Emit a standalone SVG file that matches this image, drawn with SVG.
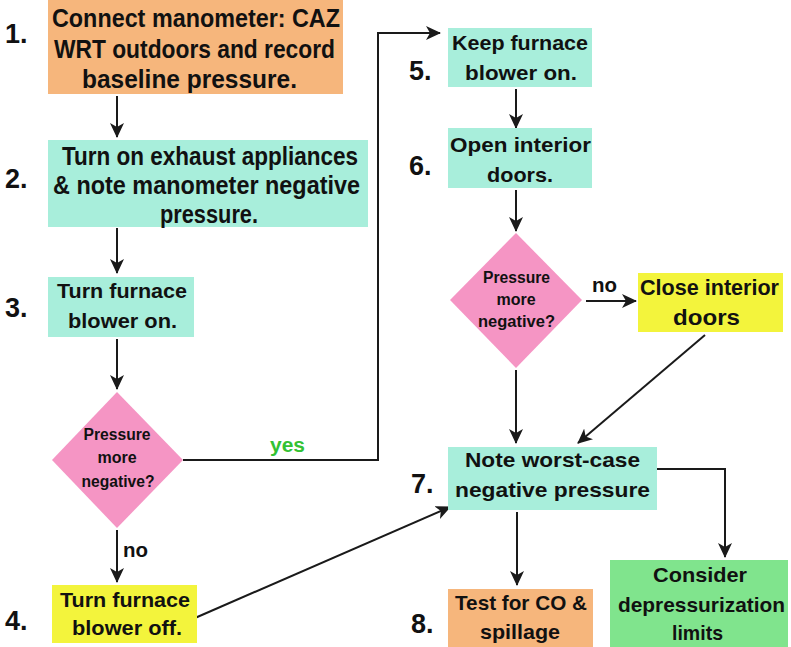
<svg xmlns="http://www.w3.org/2000/svg" width="791" height="647" viewBox="0 0 791 647">
<defs>
<marker id="ah" markerUnits="userSpaceOnUse" markerWidth="15" markerHeight="14" refX="14" refY="7" orient="auto">
<path d="M0,0 L15,7 L0,14 L4,7 Z" fill="#1a1a1a"/>
</marker>
<style>
text{font-family:"Liberation Sans",Arial,sans-serif;font-weight:bold;fill:#111;}
.t{text-anchor:middle;}
.big{font-size:25px;}
.mid{font-size:21px;}
.dia{font-size:16px;}
.num{font-size:27px;}
.lbl{font-size:20px;}
.yes{fill:#33c233;}
.c{fill:none;stroke:#1a1a1a;stroke-width:2;}
.orange{fill:#f6b67c;}
.teal{fill:#a8eedb;}
.pink{fill:#f595c4;}
.yellow{fill:#f3f43c;}
.green{fill:#80e48d;}
</style>
</defs>
<rect width="791" height="647" fill="#ffffff"/>

<g id="connectors">
<line class="c" x1="117" y1="96" x2="117" y2="137" marker-end="url(#ah)"/>
<line class="c" x1="117" y1="228" x2="117" y2="273" marker-end="url(#ah)"/>
<line class="c" x1="117" y1="339" x2="117" y2="389" marker-end="url(#ah)"/>
<line class="c" x1="117" y1="530" x2="117" y2="582" marker-end="url(#ah)"/>
<polyline class="c" points="183,460 378,460 378,33 440,33" marker-end="url(#ah)"/>
<line class="c" x1="516" y1="89" x2="516" y2="128" marker-end="url(#ah)"/>
<line class="c" x1="516" y1="190" x2="516" y2="231" marker-end="url(#ah)"/>
<line class="c" x1="586" y1="301" x2="636" y2="301" marker-end="url(#ah)"/>
<line class="c" x1="516" y1="370" x2="516" y2="443" marker-end="url(#ah)"/>
<line class="c" x1="705" y1="335" x2="578" y2="443" marker-end="url(#ah)"/>
<line class="c" x1="195" y1="618" x2="450" y2="507" marker-end="url(#ah)"/>
<line class="c" x1="517" y1="512" x2="517" y2="585" marker-end="url(#ah)"/>
<polyline class="c" points="657,469 725,469 725,557" marker-end="url(#ah)"/>
<text class="lbl yes" x="270" y="452" textLength="35" lengthAdjust="spacingAndGlyphs">yes</text>
<text class="lbl" x="123" y="557" textLength="25" lengthAdjust="spacingAndGlyphs">no</text>
<text class="lbl" x="592" y="292" textLength="25" lengthAdjust="spacingAndGlyphs">no</text>
</g>

<g id="step1">
<rect class="orange" x="48" y="0" width="295" height="94"/>
<text class="num" x="5" y="43">1.</text>
<text class="t big" x="196" y="27" textLength="288" lengthAdjust="spacingAndGlyphs">Connect manometer: CAZ</text>
<text class="t big" x="194.5" y="58" textLength="281" lengthAdjust="spacingAndGlyphs">WRT outdoors and record</text>
<text class="t big" x="189.5" y="88" textLength="215" lengthAdjust="spacingAndGlyphs">baseline pressure.</text>
</g>

<g id="step2">
<rect class="teal" x="48" y="140" width="320" height="87"/>
<text class="num" x="5" y="188">2.</text>
<text class="t big" x="210" y="165" textLength="296" lengthAdjust="spacingAndGlyphs">Turn on exhaust appliances</text>
<text class="t big" x="206.5" y="194" textLength="307" lengthAdjust="spacingAndGlyphs">&amp; note manometer negative</text>
<text class="t big" x="209" y="223" textLength="98" lengthAdjust="spacingAndGlyphs">pressure.</text>
</g>

<g id="step3">
<rect class="teal" x="48" y="277" width="146" height="60"/>
<text class="num" x="5" y="317">3.</text>
<text class="t mid" x="122" y="298" textLength="130" lengthAdjust="spacingAndGlyphs">Turn furnace</text>
<text class="t mid" x="122.5" y="328" textLength="109" lengthAdjust="spacingAndGlyphs">blower on.</text>
</g>

<g id="decision1">
<polygon class="pink" points="117,392 183,460 117,528 52,460"/>
<text class="t dia" x="117" y="440" textLength="67" lengthAdjust="spacingAndGlyphs">Pressure</text>
<text class="t dia" x="117" y="463">more</text>
<text class="t dia" x="118" y="487" textLength="73" lengthAdjust="spacingAndGlyphs">negative?</text>
</g>

<g id="step4">
<rect class="yellow" x="52" y="585" width="145" height="58"/>
<text class="num" x="5" y="630">4.</text>
<text class="t mid" x="125" y="607" textLength="130" lengthAdjust="spacingAndGlyphs">Turn furnace</text>
<text class="t mid" x="127" y="635" textLength="110" lengthAdjust="spacingAndGlyphs">blower off.</text>
</g>

<g id="step5">
<rect class="teal" x="448" y="28" width="144" height="59"/>
<text class="num" x="409" y="80">5.</text>
<text class="t mid" x="520" y="50" textLength="136" lengthAdjust="spacingAndGlyphs">Keep furnace</text>
<text class="t mid" x="521" y="80" textLength="112" lengthAdjust="spacingAndGlyphs">blower on.</text>
</g>

<g id="step6">
<rect class="teal" x="448" y="128" width="144" height="60"/>
<text class="num" x="409" y="175">6.</text>
<text class="t mid" x="520.5" y="152" textLength="141" lengthAdjust="spacingAndGlyphs">Open interior</text>
<text class="t mid" x="520" y="182" textLength="66" lengthAdjust="spacingAndGlyphs">doors.</text>
</g>

<g id="decision2">
<polygon class="pink" points="516,233 582,300 516,368 450,300"/>
<text class="t dia" x="516.5" y="283" textLength="67" lengthAdjust="spacingAndGlyphs">Pressure</text>
<text class="t dia" x="516" y="305">more</text>
<text class="t dia" x="516.5" y="327" textLength="77" lengthAdjust="spacingAndGlyphs">negative?</text>
</g>

<g id="close-doors">
<rect class="yellow" x="638" y="273" width="145" height="59"/>
<text class="t mid" x="709.5" y="295" textLength="139" lengthAdjust="spacingAndGlyphs" style="font-size:22px">Close interior</text>
<text class="t mid" x="706.5" y="325" textLength="67" lengthAdjust="spacingAndGlyphs" style="font-size:22px">doors</text>
</g>

<g id="step7">
<rect class="teal" x="448" y="447" width="209" height="63"/>
<text class="num" x="411" y="493">7.</text>
<text class="t mid" x="552.5" y="467" textLength="175" lengthAdjust="spacingAndGlyphs">Note worst-case</text>
<text class="t mid" x="552.5" y="497" textLength="195" lengthAdjust="spacingAndGlyphs">negative pressure</text>
</g>

<g id="step8">
<rect class="orange" x="448" y="589" width="145" height="58"/>
<text class="num" x="411" y="633">8.</text>
<text class="t mid" x="521" y="610" textLength="132" lengthAdjust="spacingAndGlyphs">Test for CO &amp;</text>
<text class="t mid" x="520" y="639" textLength="80" lengthAdjust="spacingAndGlyphs">spillage</text>
</g>

<g id="consider">
<rect class="green" x="610" y="560" width="178" height="87"/>
<text class="t mid" x="700" y="582" textLength="94" lengthAdjust="spacingAndGlyphs">Consider</text>
<text class="t mid" x="701.5" y="612" textLength="167" lengthAdjust="spacingAndGlyphs">depressurization</text>
<text class="t mid" x="697.5" y="640" textLength="51" lengthAdjust="spacingAndGlyphs">limits</text>
</g>
</svg>
